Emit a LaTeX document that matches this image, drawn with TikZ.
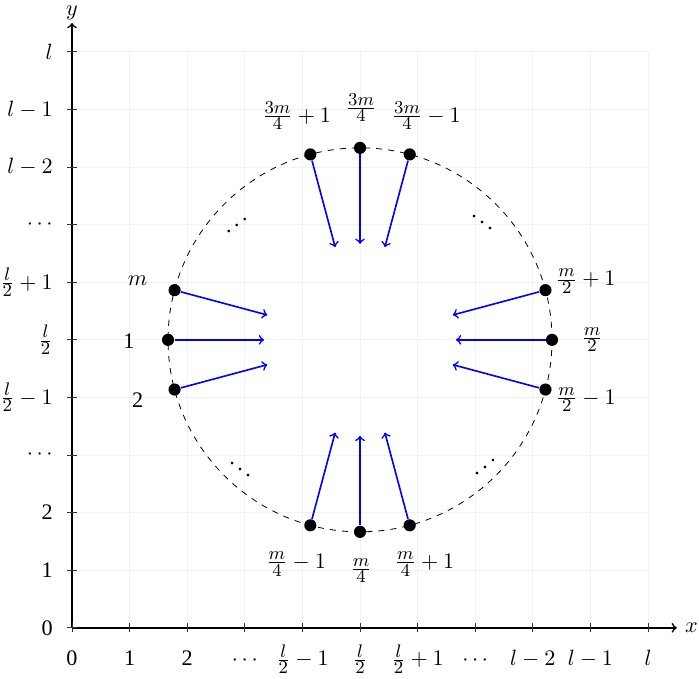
\documentclass[tikz,border=0pt,11pt]{standalone}
\usepackage{fontspec}
\setmainfont{Liberation Serif}
\usepackage{graphicx}
\DeclareMathSizes{10.95}{10.95}{9}{7}
\begin{document}
\begin{tikzpicture}[
    vertex/.style={circle, fill=black, inner sep=0pt, minimum size=6pt},
    flow/.style={->, thick, blue}
]

    % Frame
    \useasboundingbox (-1.25,-0.885) rectangle (10.885,10.90);

    % Grid
    \draw[gray!10] (0,0) grid (10,10);

    % Axes
    \coordinate (o) at (0,0);
    \coordinate (xend) at (10.5,0);
    \coordinate (yend) at (0,10.5);
    \draw[thick, ->] (o) -- (xend) node[right] (xlab) {$x$};
    \draw[thick, ->] (o) -- (yend) node[above, inner sep=1pt] (ylab) {$y$};

    % Ticks and tick labels
    \foreach \i/\lab in {0/0, 1/1, 2/2, 3/$\cdots$, 4/$\frac{l}{2}-1$, 5/$\frac{l}{2}$, 6/$\frac{l}{2}+1$, 7/$\cdots$, 8/$l-2$, 9/$l-1$, 10/$l$} {
        \draw[black!80] (\i,0.08) -- (\i,-0.08);
        \draw[black!80] (0.08,\i) -- (-0.08,\i);
        \node[anchor=base] (xt\i) at (\i,-0.66) {\lab};
        \node[anchor=east] (yt\i) at (-0.2,\i) {\lab};
    }

    % Circle
    \coordinate (c) at (5,5);
    \draw[dashed] (c) circle (3.333);

    % Points and arrows
    \foreach \a in {-15,0,15,75,90,105,165,180,195,255,270,285} {
        \node[vertex] (p\a) at ([shift={(\a:3.333)}]c) {};
        \coordinate (q\a) at ([shift={(\a:1.667)}]c);
        \draw[flow] (p\a) -- (q\a);
    }

    % Point labels
    \node (lm) at (1.14,6.02) {$m$};
    \node (l1) at (0.99,4.98) {1};
    \node (l2) at (1.14,3.96) {2};
    \node (ltl) at (3.90,8.89) {$\frac{3m}{4}+1$};
    \node (ltm) at (5.02,9.03) {$\frac{3m}{4}$};
    \node (ltr) at (6.15,8.89) {$\frac{3m}{4}-1$};
    \node (lrt) at (8.92,6.02) {$\frac{m}{2}+1$};
    \node (lrm) at (9.03,5.00) {$\frac{m}{2}$};
    \node (lrb) at (8.92,3.96) {$\frac{m}{2}-1$};
    \node (lbl) at (3.89,1.11) {$\frac{m}{4}-1$};
    \node (lbm) at (5.02,0.99) {$\frac{m}{4}$};
    \node (lbr) at (6.12,1.11) {$\frac{m}{4}+1$};

    % Omitted points
    \node (dtl) at (2.86,7.10) {\reflectbox{$\ddots$}};
    \node (dtr) at (7.12,7.15) {$\ddots$};
    \node (dbl) at (2.92,2.85) {$\ddots$};
    \node (dbr) at (7.17,2.90) {\reflectbox{$\ddots$}};

\end{tikzpicture}
\end{document}
